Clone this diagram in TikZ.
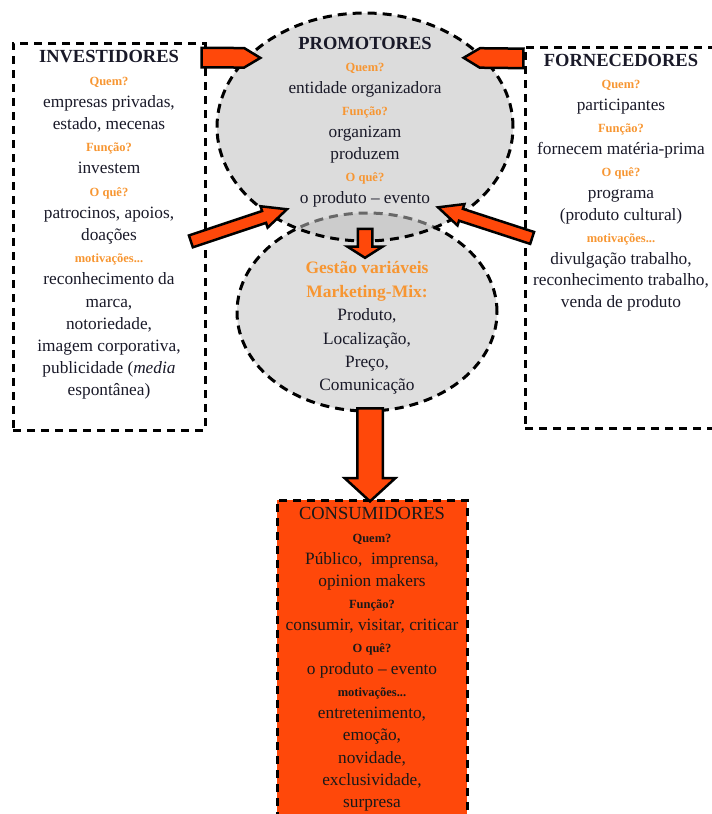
\documentclass[tikz,border=0pt]{standalone}
\usepackage{fontspec}
\setmainfont{Liberation Serif}
\usetikzlibrary{shapes.geometric,shapes.arrows,calc}

\definecolor{arrowred}{RGB}{255,72,10}
\definecolor{askorange}{RGB}{247,150,50}
\definecolor{inkblue}{RGB}{25,25,40}

\newcommand{\ask}[1]{{\fontsize{12.5}{22}\selectfont\bfseries\color{askorange}#1}}
\newcommand{\askdark}[1]{{\fontsize{12.5}{22}\selectfont\bfseries #1}}
\newcommand{\boxtitle}[1]{{\fontsize{18.5}{22}\selectfont\bfseries #1}}
\newcommand{\mixtitle}[1]{{\fontsize{17.5}{23.4}\selectfont\bfseries\color{askorange}#1}}

\tikzstyle{dashbox}=[rectangle,draw=black,line width=3pt,dash pattern=on 8pt off 6pt,inner sep=0pt]
\tikzstyle{bubble}=[ellipse,draw=black,line width=3pt,dash pattern=on 9pt off 6pt,inner sep=0pt]
\tikzstyle{boxtext}=[align=center,inner sep=0pt,anchor=north,text=inkblue,font=\fontsize{17.3}{22.2}\selectfont]
\tikzstyle{fatarrow}=[single arrow,draw=black,line width=2.5pt,fill=arrowred,inner xsep=0pt,minimum width=0pt,single arrow head indent=0pt]

% block arrow laid along the line from #2 to #3
\newcommand{\blockarrow}[4][]{%
  \path let \p1=($(#3)-(#2)$), \n1={veclen(\x1,\y1)} in
    (#2) -- node[fatarrow,sloped,allow upside down,minimum height=\n1,#1] (#4) {} (#3);}

\begin{document}
\begin{tikzpicture}[x=1pt,y=-1pt]
        \useasboundingbox (0,0) rectangle (712,814);
        \clip (0,0) rectangle (712,814);

        % boxes and bubbles
        \node[dashbox,minimum width=192pt,minimum height=387pt] (invbox) at (109,236.5) {};
        \node[dashbox,minimum width=192pt,minimum height=381pt] (fornbox) at (621,237.5) {};
        \node[dashbox,fill=arrowred,minimum width=190pt,minimum height=330pt] (consbox) at (372,665) {};
        \node[bubble,fill=black!13,minimum width=260pt,minimum height=198pt] (mix) at (367,312) {};
        \node[bubble,fill=black!25,fill opacity=0.55,minimum width=296pt,minimum height=228pt] (prom) at (365,127) {};

        % texts
        \node[boxtext] (invtext) at ($(invbox.north)+(0,9)$)
            {\boxtitle{INVESTIDORES}\\ \ask{Quem?}\\ empresas privadas,\\ estado, mecenas\\
             \ask{Função?}\\ investem\\ \ask{O quê?}\\ patrocinos, apoios,\\ doações\\
             \ask{motivações...}\\ reconhecimento da\\ marca,\\ notoriedade,\\
             imagem corporativa,\\ publicidade (\textit{media}\\ espontânea)};
        \node[boxtext,font=\fontsize{17.3}{21.9}\selectfont] (forntext) at ($(fornbox.north)+(0,9)$)
            {\boxtitle{FORNECEDORES}\\ \ask{Quem?}\\ participantes\\ \ask{Função?}\\
             fornecem matéria-prima\\ \ask{O quê?}\\ programa\\ (produto cultural)\\
             \ask{motivações...}\\ divulgação trabalho,\\ reconhecimento trabalho,\\ venda de produto};
        \node[boxtext,font=\fontsize{17.3}{22}\selectfont] (promtext) at ($(prom.north)+(0,26)$)
            {\boxtitle{PROMOTORES}\\ \ask{Quem?}\\ entidade organizadora\\ \ask{Função?}\\
             organizam\\ produzem\\ \ask{O quê?}\\ o produto -- evento};
        \node[boxtext,font=\fontsize{17.3}{23.4}\selectfont] (mixtext) at ($(mix.north)+(0,50)$)
            {\mixtitle{Gestão variáveis}\\ \mixtitle{Marketing-Mix:}\\ Produto,\\
             Localização,\\ Preço,\\ Comunicação};
        \node[boxtext,text=black!90,font=\fontsize{17.3}{22.1}\selectfont] (constext) at ($(consbox.north)+(0,9)$)
            {{\fontsize{18.5}{22}\selectfont CONSUMIDORES}\\ \askdark{Quem?}\\ Público,~ imprensa,\\
             opinion makers\\ \askdark{Função?}\\ consumir, visitar, criticar\\ \askdark{O quê?}\\
             o produto -- evento\\ \askdark{motivações...}\\ entretenimento,\\ emoção,\\
             novidade,\\ exclusividade,\\ surpresa};

        % arrow ends
        \coordinate (invout) at ($(invbox.north east)+(-13,16)$);
        \coordinate (invin) at ($(prom.150)+(7,0)$);
        \coordinate (fornout) at ($(fornbox.north west)+(8,13)$);
        \coordinate (fornin) at ($(prom.30)+(-13,0)$);
        \coordinate (invout2) at ($(invbox.east)+(-22,7)$);
        \coordinate (invin2) at ($(prom.225)+(7,-7)$);
        \coordinate (fornout2) at ($(fornbox.west)+(15,2.5)$);
        \coordinate (fornin2) at ($(prom.315)+(-12,-9)$);
        \coordinate (promout) at ($(prom.south)+(0,-16)$);
        \coordinate (mixin) at ($(mix.north)+(-2,44)$);
        \coordinate (mixout) at ($(mix.south)+(3,-10)$);
        \coordinate (consin) at ($(consbox.north)+(-2,-3)$);

        % arrows
        \blockarrow[inner ysep=8.5pt,single arrow head extend=0pt,single arrow tip angle=62]{invout}{invin}{arrinv}
        \blockarrow[inner ysep=8.5pt,single arrow head extend=0pt,single arrow tip angle=62]{fornout}{fornin}{arrforn}
        \blockarrow[inner ysep=5pt,single arrow head extend=5pt,single arrow tip angle=50]{invout2}{invin2}{arrinv2}
        \blockarrow[inner ysep=5pt,single arrow head extend=5pt,single arrow tip angle=50]{fornout2}{fornin2}{arrforn2}
        \blockarrow[inner ysep=6pt,single arrow head extend=10.5pt,single arrow tip angle=115]{promout}{mixin}{arrmix}
        \blockarrow[inner ysep=11.5pt,single arrow head extend=12.5pt,single arrow tip angle=95]{mixout}{consin}{arrcons}
    \end{tikzpicture}
\end{document}
